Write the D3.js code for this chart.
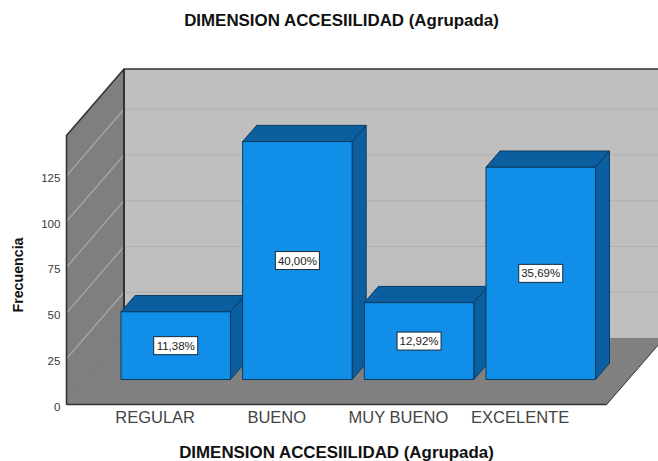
<!DOCTYPE html>
<html>
<head>
<meta charset="utf-8">
<title>DIMENSION ACCESIILIDAD (Agrupada)</title>
<script src="https://cdn.jsdelivr.net/npm/d3@7"></script>
<style>
html, body { margin: 0; padding: 0; background: #fff; }
svg { display: block; font-family: "Liberation Sans", Arial, sans-serif; }
</style>
</head>
<body>
<div id="chart"></div>
<script>
var categorias = ["REGULAR", "BUENO", "MUY BUENO", "EXCELENTE"];
var frecuencias = [37, 130, 42, 116];
var ticksY = [0, 25, 50, 75, 100, 125];
var ticksGrid = [25, 50, 75, 100, 125];
var yMax = 147;

var width = 658,
    height = 461;

// front edge of the floor and height of the left wall
var x0 = 66.5, x1 = 606.7, yBase = 404.5, yTop = 135.5;
// depth of the box, and where the bars sit inside it
var depthX = 57.5, depthY = 66.5;
var barFront = 0.376, barBack = 0.62;

var svg = d3.select("#chart")
    .append("svg")
    .attr("width", width)
    .attr("height", height);

var x = d3.scaleBand()
    .domain(categorias)
    .range([x0, x1])
    .paddingInner(0.1)
    .paddingOuter(0.27);

var y = d3.scaleLinear()
    .domain([0, yMax])
    .range([yBase, yTop]);

var total = d3.sum(frecuencias);
var formatPct = d3.formatLocale({ decimal: ",", thousands: ".", grouping: [3], currency: ["", ""] }).format(".2f");

var line = d3.line();

// px,py in front plane, d = 0 front .. 1 back
function proj(px, py, d) {
    return [px + depthX * d, py - depthY * d];
}

function poly(g, pts, fill, stroke, sw) {
    return g.append("path")
        .attr("d", line(pts) + "Z")
        .attr("fill", fill)
        .attr("stroke", stroke || "none")
        .attr("stroke-width", sw || 0);
}

var box = svg.append("g");

// back wall runs past the right side of the window
poly(box, [proj(x0, yTop, 1), [width + 2, yTop - depthY], [width + 2, yBase - depthY], proj(x0, yBase, 1)], "#bfbfbf");
// side wall
poly(box, [proj(x0, yBase, 0), proj(x0, yTop, 0), proj(x0, yTop, 1), proj(x0, yBase, 1)], "#7f7f7f");
// floor
poly(box, [proj(x0, yBase, 0), proj(x1, yBase, 0), proj(x1, yBase, 1), proj(x0, yBase, 1)], "#808080");

// grid lines, back wall then side wall
box.selectAll(".grid-back")
    .data(ticksGrid)
    .enter().append("line")
    .attr("class", "grid-back")
    .attr("x1", x0 + depthX)
    .attr("x2", width + 2)
    .attr("y1", function (d) { return y(d) - depthY; })
    .attr("y2", function (d) { return y(d) - depthY; })
    .attr("stroke", "#b0b0b0")
    .attr("stroke-width", 1);

box.selectAll(".grid-side")
    .data(ticksGrid)
    .enter().append("line")
    .attr("class", "grid-side")
    .attr("x1", x0)
    .attr("x2", x0 + depthX)
    .attr("y1", function (d) { return y(d); })
    .attr("y2", function (d) { return y(d) - depthY; })
    .attr("stroke", "#a8a8a8")
    .attr("stroke-width", 1.2);

// wall and floor edges
var edge = "#333333";
box.append("path")
    .attr("d", line([proj(x0, yBase, 0), proj(x0, yTop, 0), proj(x0, yTop, 1), [width + 2, yTop - depthY]]))
    .attr("fill", "none").attr("stroke", edge).attr("stroke-width", 1.6);
box.append("path")
    .attr("d", line([proj(x0, yTop, 1), proj(x0, yBase, 1)]))
    .attr("fill", "none").attr("stroke", edge).attr("stroke-width", 2);
box.append("path")
    .attr("d", line([proj(x0, yBase, 0), proj(x1, yBase, 0)]))
    .attr("fill", "none").attr("stroke", edge).attr("stroke-width", 1.6);
box.append("path")
    .attr("d", line([proj(x1, yBase, 0), proj(x1, yBase, 1)]))
    .attr("fill", "none").attr("stroke", edge).attr("stroke-width", 1);
box.append("path")
    .attr("d", line([proj(x0, yBase, 0), proj(x0, yBase, 1)]))
    .attr("fill", "none").attr("stroke", "#555").attr("stroke-width", 1).attr("stroke-dasharray", "1,1");

// bars, left to right so each front covers the previous side face
var barFill = "#118fe8", barDark = "#0c5f9e", barEdge = "#0a3a60";
var offs = barFront * depthX, offy = barFront * depthY;

var bars = svg.selectAll(".bar")
    .data(frecuencias)
    .enter().append("g")
    .attr("class", "bar");

bars.each(function (d, i) {
    var g = d3.select(this),
        left = x(categorias[i]),
        right = left + x.bandwidth(),
        top = y(d),
        base = yBase;

    poly(g, [proj(left, top, barFront), proj(left, top, barBack), proj(right, top, barBack), proj(right, top, barFront)], barDark, barEdge, 1);
    poly(g, [proj(right, top, barFront), proj(right, top, barBack), proj(right, base, barBack), proj(right, base, barFront)], barDark, barEdge, 1);
    poly(g, [proj(left, top, barFront), proj(right, top, barFront), proj(right, base, barFront), proj(left, base, barFront)], barFill, barEdge, 1);

    // percentage label in the middle of the front face
    var cx = (left + right) / 2 + offs,
        cy = (top + base) / 2 - offy;

    g.append("rect")
        .attr("x", cx - 22)
        .attr("y", cy - 9)
        .attr("width", 44)
        .attr("height", 18)
        .attr("fill", "#fff")
        .attr("stroke", "#1a2a38")
        .attr("stroke-width", 1);

    g.append("text")
        .attr("x", cx)
        .attr("y", cy + 4)
        .attr("text-anchor", "middle")
        .attr("font-size", 11.5)
        .attr("fill", "#222")
        .text(formatPct(d / total * 100) + "%");
});

// y axis labels
var yAxis = svg.append("g")
    .attr("transform", "translate(" + x0 + ",2)")
    .call(d3.axisLeft(y).tickValues(ticksY).tickSize(0).tickPadding(6));
yAxis.select(".domain").remove();
yAxis.selectAll("text")
    .attr("font-family", "Liberation Sans")
    .attr("font-size", 11.6)
    .attr("fill", "#3a3a3a");

// x axis labels
var xAxis = svg.append("g")
    .attr("transform", "translate(1," + yBase + ")")
    .call(d3.axisBottom(x).tickSize(0).tickPadding(7));
xAxis.select(".domain").remove();
xAxis.selectAll("text")
    .attr("font-family", "Liberation Sans")
    .attr("font-size", 16.5)
    .attr("fill", "#444");

// titles
svg.append("text")
    .attr("x", 341.5)
    .attr("y", 26)
    .attr("text-anchor", "middle")
    .attr("font-size", 16.9)
    .attr("font-weight", "bold")
    .attr("fill", "#111")
    .text("DIMENSION ACCESIILIDAD (Agrupada)");

svg.append("text")
    .attr("x", 336.5)
    .attr("y", 458)
    .attr("text-anchor", "middle")
    .attr("font-size", 16.9)
    .attr("font-weight", "bold")
    .attr("fill", "#111")
    .text("DIMENSION ACCESIILIDAD (Agrupada)");

svg.append("text")
    .attr("transform", "translate(23,275) rotate(-90)")
    .attr("text-anchor", "middle")
    .attr("font-size", 14.2)
    .attr("font-weight", "bold")
    .attr("fill", "#111")
    .text("Frecuencia");
</script>
</body>
</html>
